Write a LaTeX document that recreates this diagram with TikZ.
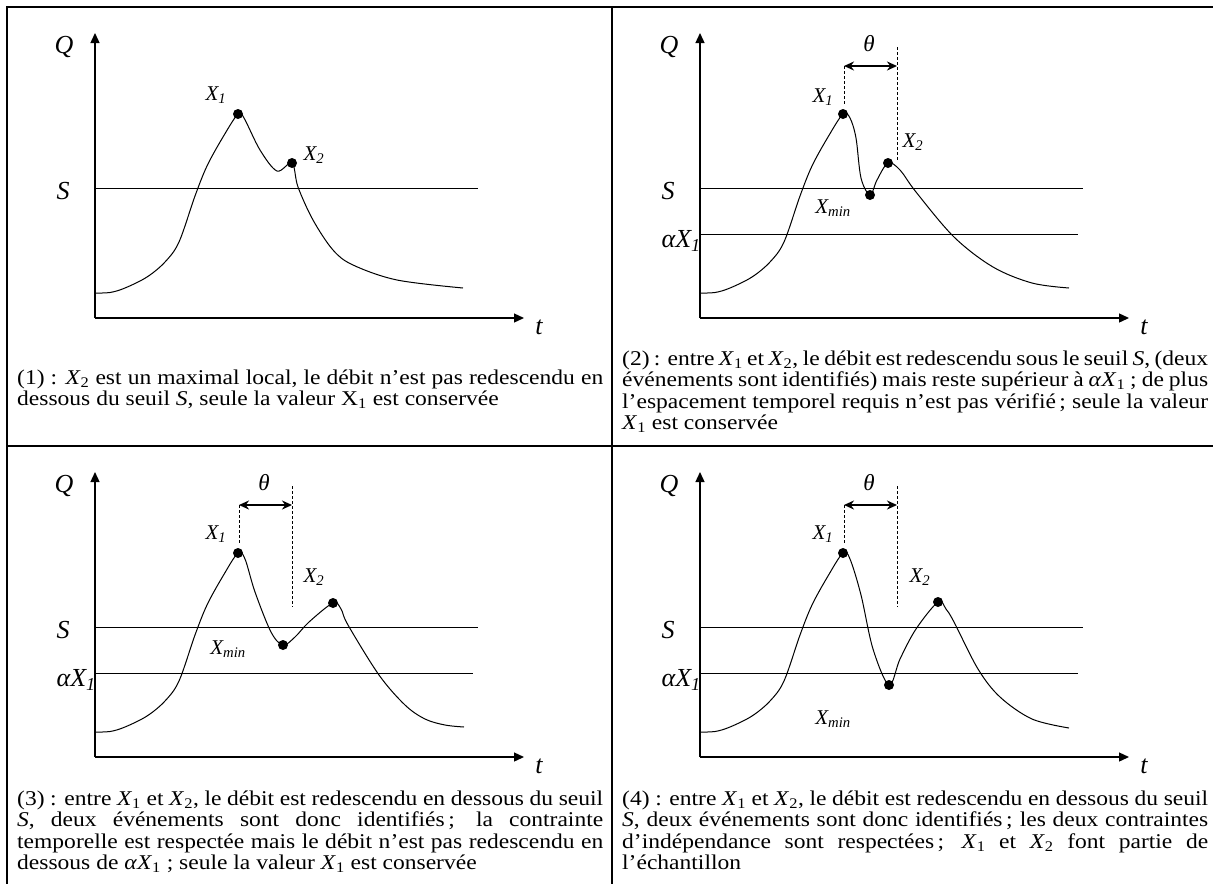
\documentclass[tikz,border=0pt]{standalone}
\usepackage{fontspec}
\setmainfont{Liberation Serif}
\newfontfamily\capfont{Liberation Serif}[FakeStretch=1.12]
\usetikzlibrary{arrows.meta}
\newcommand{\Xlab}[1]{X\textsubscript{#1}}
\newcommand{\Xcap}[1]{\textit{X}\textsubscript{#1}}
\tikzset{
  cadre/.style={line width=2.3pt},
  axe/.style={-{Triangle[length=10pt,width=9pt]},line width=1.3pt},
  seuil/.style={line width=1pt},
  crue/.style={line width=1pt,smooth,tension=.55},
  pic/.style={circle,fill=black,inner sep=0pt,minimum size=10pt},
  lab/.style={font=\fontsize{26}{30}\selectfont\itshape,inner sep=0pt},
  plab/.style={font=\fontsize{21}{24}\selectfont\itshape,inner sep=0pt},
  repere/.style={dash pattern=on 3pt off 2pt,line width=.9pt},
  ecart/.style={{Stealth[length=10pt,width=9pt]}-{Stealth[length=10pt,width=9pt]},line width=2.2pt},
  legende/.style={anchor=base west,text width=586pt,align=justify,inner sep=0pt,
    font=\capfont\fontsize{21}{21.5}\selectfont}}

\begin{document}
\begin{tikzpicture}[x=1pt,y=1pt]
\useasboundingbox (0,0) rectangle (1213,-884);
% tableau
\draw[cadre] (1213,-7) -| (7,-884);
\draw[cadre] (612,-7) -- (612,-884);
\draw[cadre] (7,-446) -- (1213,-446);
% axes et seuil S
\foreach \ox/\oy/\k in {95/318/1,700/318/2,95/757/3,700/757/4}{
\begin{scope}[shift={(\ox,-\oy)}]
\coordinate (o\k) at (0,0);
\draw[axe] (o\k) -- (0,285);
\draw[axe] (o\k) -- (429,0);
\draw[seuil] (0,130) -- (383,130);
\node[lab] (q\k) at (-31,271) {Q};
\node[lab] (s\k) at (-32,127) {S};
\node[lab] (t\k) at (444,-9) {t};
\end{scope}}
% seuil alpha X1 et ecart theta
\foreach \ox/\oy/\k/\yb in {700/318/2/158,95/757/3/150,700/757/4/150}{
\begin{scope}[shift={(\ox,-\oy)}]
\draw[seuil] (0,84) -- (378,84);
\node[lab,anchor=east] (a\k) at (1,77) {α\Xlab{1}};
\coordinate (g\k) at (144,252);
\coordinate (d\k) at (197,252);
\draw[repere] (g\k) -- (144,213);
\draw[repere] (197,271) -- (197,\yb);
\draw[ecart] (g\k) -- (d\k);
\node[lab,font=\fontsize{23}{26}\selectfont\itshape] (th\k) at (169,274) {θ};
\end{scope}}
% (1)
\begin{scope}[shift={(95,-318)}]
\draw[crue] plot coordinates {(0,25) (15,25.5) (30,30) (52,41) (70,56) (84,76) (100,122) (112,152) (128,181) (143,204)
  (149,200) (165,168) (182,147) (197,155) (203,131) (218,98) (238,68) (258,53) (302,38) (368,30)};
\node[pic] (x1a) at (143,204) {};
\node[pic] (x2a) at (197,155) {};
\node[plab] (l1a) at (121,223) {\Xlab{1}};
\node[plab] (l2a) at (219,163) {\Xlab{2}};
\end{scope}
% (2)
\begin{scope}[shift={(700,-318)}]
\draw[crue] plot coordinates {(0,25) (15,25.5) (30,30) (52,41) (70,56) (84,76) (100,122) (112,152) (128,181) (143,204)
  (150,200) (156,180) (161,140) (170,123) (177,138) (188,155) (200,148) (216,126) (254,81) (293,51) (332,35) (369,30)};
\node[pic] (x1b) at (143,204) {};
\node[pic] (x2b) at (188,155) {};
\node[pic] (mb) at (170,123) {};
\node[plab] (l1b) at (123,221) {\Xlab{1}};
\node[plab] (l2b) at (213,176) {\Xlab{2}};
\node[plab] (lmb) at (133,110) {\Xlab{min}};
\end{scope}
% (3)
\begin{scope}[shift={(95,-757)}]
\draw[crue] plot coordinates {(0,25) (15,25.5) (30,30) (52,41) (70,56) (84,76) (100,122) (112,152) (128,181) (143,204)
  (150,198) (160,165) (176,125) (188,112) (200,120) (214,135) (238,154) (246,148) (253,132) (284,82) (310,52) (330,38) (350,32) (369,30)};
\node[pic] (x1c) at (143,204) {};
\node[pic] (x2c) at (238,154) {};
\node[pic] (mc) at (188,112) {};
\node[plab] (l1c) at (121,223) {\Xlab{1}};
\node[plab] (l2c) at (219,180) {\Xlab{2}};
\node[plab] (lmc) at (133,108) {\Xlab{min}};
\end{scope}
% (4)
\begin{scope}[shift={(700,-757)}]
\draw[crue] plot coordinates {(0,25) (15,25.5) (30,30) (52,41) (70,56) (84,76) (100,122) (112,152) (128,181) (143,204)
  (150,198) (161,162) (173,108) (189,72) (200,98) (216,128) (238,155) (246,148) (254,135) (278,88) (300,60) (332,38) (369,29)};
\node[pic] (x1d) at (143,204) {};
\node[pic] (x2d) at (238,155) {};
\node[pic] (md) at (189,72) {};
\node[plab] (l1d) at (123,223) {\Xlab{1}};
\node[plab] (l2d) at (220,180) {\Xlab{2}};
\node[plab] (lmd) at (133,38) {\Xlab{min}};
\end{scope}
% legendes
\node[legende] (c1) at (17,-384) {(1)~: \Xcap{2} est un maximal local, le débit n’est pas redescendu en\linebreak
  dessous du seuil \textit{S}, seule la valeur X\textsubscript{1} est conservée};
\node[legende] (c2) at (622,-365) {(2)~: entre \Xcap{1} et \Xcap{2}, le débit est redescendu sous le seuil \textit{S}, (deux\linebreak
  événements sont identifiés) mais reste supérieur à \textit{α}\Xcap{1} ; de plus\linebreak
  l’espacement temporel requis n’est pas vérifié\,; seule la valeur\linebreak
  \Xcap{1} est conservée};
\node[legende] (c3) at (17,-805) {(3)~: entre \Xcap{1} et \Xcap{2}, le débit est redescendu en dessous du seuil\linebreak
  \textit{S}, deux événements sont donc identifiés\,; la contrainte\linebreak
  temporelle est respectée mais le débit n’est pas redescendu en\linebreak
  dessous de \textit{α}\Xcap{1} ; seule la valeur \Xcap{1} est conservée};
\node[legende] (c4) at (622,-805) {(4)~: entre \Xcap{1} et \Xcap{2}, le débit est redescendu en dessous du seuil\linebreak
  \textit{S}, deux événements sont donc identifiés\,; les deux contraintes\linebreak
  d’indépendance sont respectées\,; \Xcap{1} et \Xcap{2} font partie de\linebreak
  l’échantillon};
\end{tikzpicture}
\end{document}
